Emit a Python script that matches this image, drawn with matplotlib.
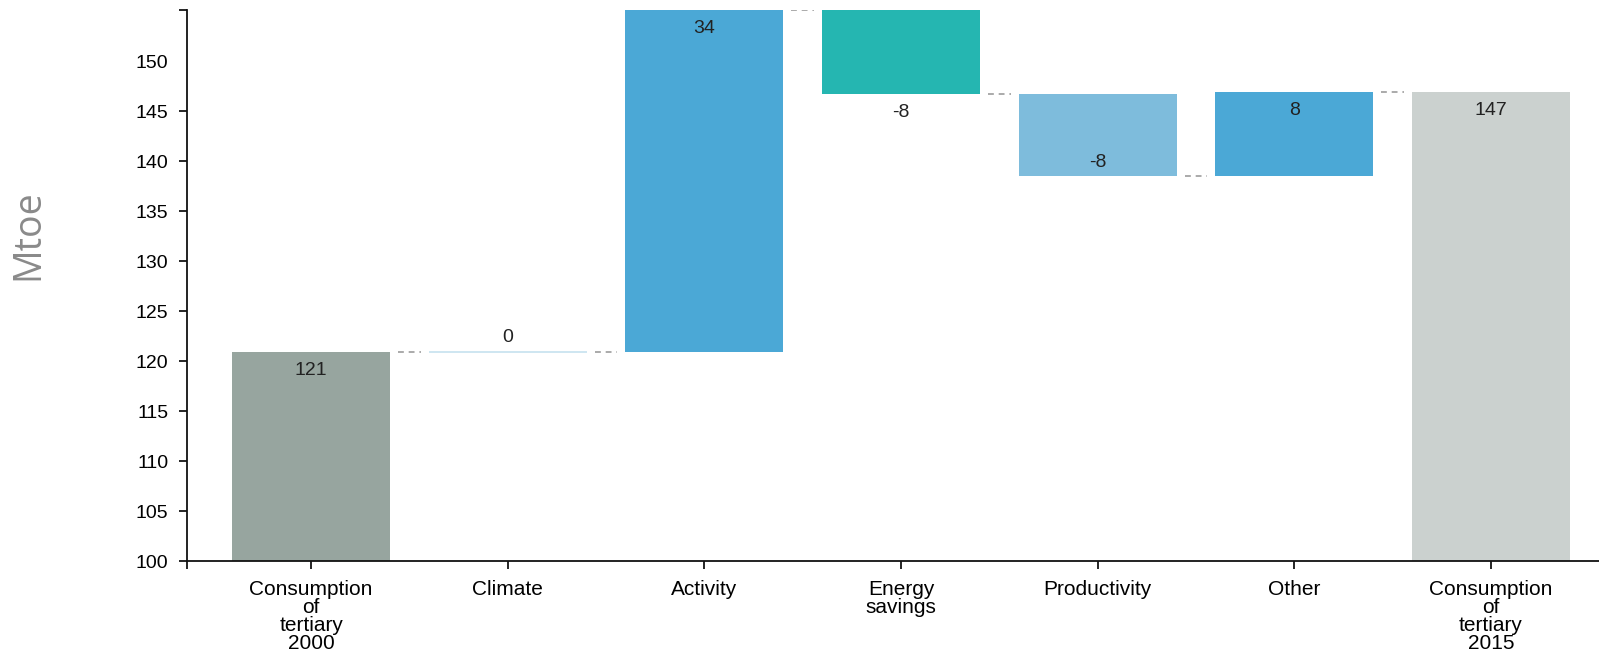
import numpy as np
import matplotlib
matplotlib.use('Agg')
import matplotlib.pyplot as plt

plt.rcParams['font.family'] = ['Liberation Sans', 'DejaVu Sans']

categories = ['Consumption\nof\ntertiary\n2000', 'Climate', 'Activity', 'Energy\nsavings',
              'Productivity', 'Other', 'Consumption\nof\ntertiary\n2015']
# first and last are totals, the rest are changes
values = [120.9, 0.0, 34.2, -8.4, -8.2, 8.4, 146.9]
labels = ['121', '0', '34', '-8', '-8', '8', '147']
is_total = [True, False, False, False, False, False, True]

colors = ['#97a59f', '#cfe6f1', '#4ba8d6', '#25b6b1', '#7ebcdc', '#4ba8d6', '#cbd1cf']
# label offsets in points (negative = below the reference edge)
label_dy = [-13, 10.5, -13, -13, 10, -13, -13]

fig = plt.figure(figsize=(15.99, 6.57), dpi=100)
ax = fig.add_axes([0.1167, 0.1461, 0.8833, 0.8384])

x = np.arange(len(categories))
width = 0.804
ymin, ymax = 100, 155.1

running = 0.0
bottoms, tops, ends = [], [], []
for i, v in enumerate(values):
    if is_total[i]:
        b, t = 0.0, v
        running = v
    else:
        start = running
        running = running + v
        b, t = min(start, running), max(start, running)
    bottoms.append(b)
    tops.append(t)
    ends.append(running)

for i in range(len(values)):
    h = tops[i] - bottoms[i]
    if h == 0:
        # zero change still shows as a thin line
        ax.bar(x[i], 0.25, width, bottom=bottoms[i] - 0.125, color=colors[i], linewidth=0)
    else:
        ax.bar(x[i], h, width, bottom=bottoms[i], color=colors[i], linewidth=0)

# value labels
for i in range(len(values)):
    v = values[i]
    if is_total[i] or v >= 0:
        ref = tops[i]
    else:
        ref = bottoms[i]
    ax.annotate(labels[i], (x[i], ref), xytext=(0, label_dy[i]), textcoords='offset points',
                ha='center', va='center', fontsize=14, color='#222222')

# dashed connectors between bars
for i in range(len(values) - 1):
    ax.plot([x[i] + width / 2 + 0.04, x[i + 1] - width / 2 - 0.04], [ends[i], ends[i]],
            color='#aaaaaa', linewidth=1.4, linestyle=(0, (3, 2.5)))

ax.set_xlim(-0.633, 6.55)
ax.set_ylim(ymin, ymax)
ax.set_yticks(np.arange(100, 155, 5))
ax.set_xticks(x)
ax.set_xticklabels(categories, fontsize=15, linespacing=0.92)
ax.tick_params(axis='y', labelsize=14, length=6, width=1.2, pad=7)
ax.tick_params(axis='x', length=6, width=1.2, pad=8)
ax.set_yticks([ymax], minor=True)
ax.set_xticks([-0.633], minor=True)
ax.tick_params(which='minor', length=6, width=1.2)
ax.yaxis.get_major_ticks()[-1].tick1line.set_visible(False)

for s in ['top', 'right']:
    ax.spines[s].set_visible(False)
for s in ['left', 'bottom']:
    ax.spines[s].set_linewidth(1.3)
    ax.spines[s].set_color('#111111')

fig.text(0.018, 0.643, 'Mtoe', rotation=90, ha='center', va='center',
         fontsize=27, color='#8a8a8a', family='Open Sans')

fig.savefig('out.png', dpi=100)
